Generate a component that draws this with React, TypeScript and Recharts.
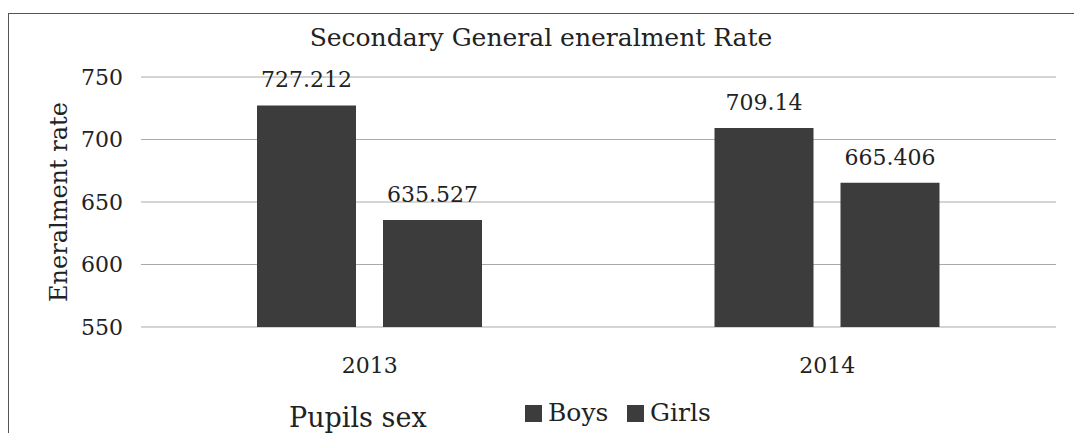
import React from 'react';
import { BarChart, Bar, XAxis, YAxis, CartesianGrid, Legend, LabelList } from 'recharts';

const categories = ['2013', '2014'];
const boysValues = [727.212, 709.14];
const girlsValues = [635.527, 665.406];
const seriesNames = ['Boys', 'Girls'];
const yTicks = [550, 600, 650, 700, 750];
const titleText = 'Secondary General eneralment Rate';
const yTitle = 'Eneralment rate';
const xTitle = 'Pupils sex';

const data = categories.map((c, i) => ({
  year: c,
  [seriesNames[0]]: boysValues[i],
  [seriesNames[1]]: girlsValues[i],
}));

const FONT = '"DejaVu Serif", serif';
const BAR_COLOR = '#3c3c3c';
const TEXT_COLOR = '#222';
const W = 1066;
const H = 425;

const LegendContent = (props: any) => {
  const payload = props.payload || [];
  const positions = [517, 619];
  return (
    <div style={{ position: 'relative', width: W, height: 30, fontFamily: FONT, color: TEXT_COLOR }}>
      <span style={{ position: 'absolute', left: 281, top: 5, fontSize: 27, lineHeight: '30px' }}>{xTitle}</span>
      {payload.map((p: any, i: number) => (
        <span key={p.value} style={{ position: 'absolute', left: positions[i], top: 0, display: 'flex', alignItems: 'center', height: 30 }}>
          <span style={{ display: 'inline-block', width: 17, height: 17, background: p.color, marginRight: 6 }} />
          <span style={{ fontSize: 25, lineHeight: '30px' }}>{p.value}</span>
        </span>
      ))}
    </div>
  );
};

export default function App() {
  return (
    <div style={{ position: 'relative', width: W, height: H, overflow: 'hidden', background: '#fff' }}>
      <div style={{ position: 'absolute', left: 0, top: 5, right: 0, bottom: 0, borderTop: '1.5px solid #555', borderLeft: '1.5px solid #555' }} />
      <div style={{ position: 'absolute', left: 0, top: 15, width: W, textAlign: 'center', fontFamily: FONT, fontSize: 25, color: TEXT_COLOR, lineHeight: '30px' }}>
        {titleText}
      </div>
      <div style={{ position: 'absolute', left: 0, top: 0 }}>
        <BarChart width={W} height={H} data={data} margin={{ top: 69, right: 18, left: 0, bottom: 0 }} barSize={99} barGap={27}>
          <CartesianGrid horizontal vertical={false} stroke="#aaa" strokeWidth={1.2} />
          <XAxis
            dataKey="year"
            axisLine={false}
            tickLine={false}
            tickSize={0}
            tickMargin={30}
            height={76}
            tick={{ fontFamily: FONT, fontSize: 22, fill: TEXT_COLOR }}
          />
          <YAxis
            domain={[550, 750]}
            ticks={yTicks}
            axisLine={false}
            tickLine={false}
            tickSize={0}
            tickMargin={18}
            width={133}
            tick={{ fontFamily: FONT, fontSize: 22, fill: TEXT_COLOR }}
            label={{ value: yTitle, angle: -90, position: 'center', dx: -16, style: { fontFamily: FONT, fontSize: 24, fill: TEXT_COLOR } }}
          />
          <Legend
            content={<LegendContent />}
            wrapperStyle={{ position: 'absolute', left: 0, top: 390, width: W }}
          />
          {seriesNames.map((s) => (
            <Bar key={s} dataKey={s} name={s} fill={BAR_COLOR} isAnimationActive={false}>
              <LabelList dataKey={s} position="top" offset={18} style={{ fontFamily: FONT, fontSize: 22, fill: TEXT_COLOR }} />
            </Bar>
          ))}
        </BarChart>
      </div>
    </div>
  );
}
